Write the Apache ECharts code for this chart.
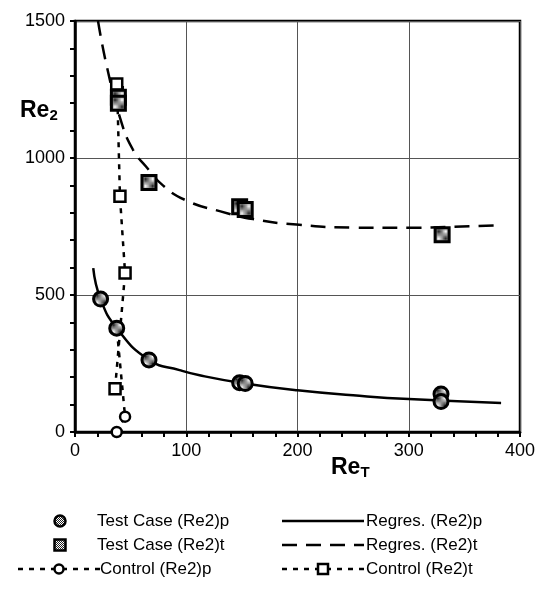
<!DOCTYPE html>
<html><head><meta charset="utf-8">
<script src="https://cdn.jsdelivr.net/npm/echarts@6/dist/echarts.min.js"></script>
<style>html,body{margin:0;padding:0;background:#fff}#c{width:542px;height:596px}</style>
</head><body><div id="c"></div>
<script>
// ---- data ----
var xTicks = [0, 100, 200, 300, 400];
var yTicks = [0, 500, 1000, 1500];
var testP_x = [23, 37.5, 66.5, 148, 153, 329, 329];
var testP_y = [485, 379, 263, 180, 177, 139, 111];
var testT_x = [39, 39, 66.5, 148, 153, 330];
var testT_y = [1222, 1200, 911, 822, 812, 720];
var ctrlP_x = [37.5, 45, 37.5];
var ctrlP_y = [0, 56, 379];
var ctrlT_x = [36, 45, 40.4, 38, 37.5];
var ctrlT_y = [158, 580, 860, 1238, 1270];
var regP_x = [16.4, 23, 37.5, 66.5, 94, 112, 151, 200, 250, 300, 383];
var regP_y = [598, 485, 379, 263, 226, 207, 178, 152, 134, 120, 106];
var regT_x = [20.7, 28.5, 40.7, 52, 64, 79, 100, 130, 160, 199, 250, 300, 340, 378];
var regT_y = [1500, 1336, 1144, 1031, 968, 900, 845, 806, 777, 757, 746, 745, 749, 754];

function pairs(xs, ys){ return xs.map(function(x,i){ return [x, ys[i]]; }); }

// stipple pattern for filled markers
var pc = document.createElement('canvas'); pc.width = 2; pc.height = 2;
var pctx = pc.getContext('2d');
pctx.fillStyle = '#ffffff'; pctx.fillRect(0,0,2,2);
pctx.fillStyle = '#222222'; pctx.fillRect(0,0,1,1); pctx.fillRect(1,1,1,1);
var stipple = {image: pc, repeat: 'repeat'};

var FONT = 'Liberation Sans, Arial, sans-serif';
var chart = echarts.init(document.getElementById('c'), null, {renderer: 'canvas'});

var lx1 = 60, tx1 = 97, lx2a = 282, lx2b = 364, tx2 = 366;
var rows = [521, 545, 569];
var lgFont = {fontSize: 17, fontFamily: FONT, fill: '#000'};

var graphics = [
  {type:'text', left: 20, top: 99, style:{text:'{b|Re}{s|2}', rich:{b:{fontSize:23,fontWeight:'bold',fontFamily:FONT}, s:{fontSize:15,fontWeight:'bold',fontFamily:FONT, padding:[10,0,0,0]}}}},
  {type:'text', left: 331, top: 456, style:{text:'{b|Re}{s|T}', rich:{b:{fontSize:23,fontWeight:'bold',fontFamily:FONT}, s:{fontSize:15,fontWeight:'bold',fontFamily:FONT, padding:[10,0,0,0]}}}},
  // row 1
  {type:'circle', shape:{cx:lx1, cy:rows[0], r:5.5}, style:{fill:stipple, stroke:'#000', lineWidth:2.5}},
  {type:'text', x:tx1, y:rows[0], style:Object.assign({text:'Test Case (Re2)p', textVerticalAlign:'middle'}, lgFont)},
  {type:'line', shape:{x1:lx2a, y1:rows[0], x2:lx2b, y2:rows[0]}, style:{stroke:'#000', lineWidth:2.5}},
  {type:'text', x:tx2, y:rows[0], style:Object.assign({text:'Regres. (Re2)p', textVerticalAlign:'middle'}, lgFont)},
  // row 2
  {type:'rect', shape:{x:lx1-5.5, y:rows[1]-5.5, width:11, height:11}, style:{fill:stipple, stroke:'#000', lineWidth:2.5}},
  {type:'text', x:tx1, y:rows[1], style:Object.assign({text:'Test Case (Re2)t', textVerticalAlign:'middle'}, lgFont)},
  {type:'line', shape:{x1:lx2a, y1:rows[1], x2:lx2b, y2:rows[1]}, style:{stroke:'#000', lineWidth:2.5, lineDash:[15,9]}},
  {type:'text', x:tx2, y:rows[1], style:Object.assign({text:'Regres. (Re2)t', textVerticalAlign:'middle'}, lgFont)},
  // row 3
  {type:'line', shape:{x1:18, y1:rows[2], x2:100, y2:rows[2]}, style:{stroke:'#000', lineWidth:2.5, lineDash:[5,6]}},
  {type:'circle', shape:{cx:59, cy:rows[2], r:4.5}, style:{fill:'#fff', stroke:'#000', lineWidth:2.5}},
  {type:'text', x:100, y:rows[2], style:Object.assign({text:'Control (Re2)p', textVerticalAlign:'middle'}, lgFont)},
  {type:'line', shape:{x1:lx2a, y1:rows[2], x2:lx2b, y2:rows[2]}, style:{stroke:'#000', lineWidth:2.5, lineDash:[5,6]}},
  {type:'rect', shape:{x:323-5, y:rows[2]-5, width:10, height:10}, style:{fill:'#fff', stroke:'#000', lineWidth:2.5}},
  {type:'text', x:tx2, y:rows[2], style:Object.assign({text:'Control (Re2)t', textVerticalAlign:'middle'}, lgFont)}
];

function plain(v){ return String(v); }

chart.setOption({
  animation: false,
  backgroundColor: '#fff',
  grid: {left: 75, right: 22, top: 21, bottom: 164, show: true, borderColor: '#000', borderWidth: 2.5, backgroundColor: 'transparent'},
  xAxis: {
    type: 'value', min: xTicks[0], max: xTicks[xTicks.length-1], interval: 100,
    axisLine: {show: true, onZero: false, lineStyle: {color: '#000', width: 2.5}},
    axisTick: {show: true, inside: false, length: 5, lineStyle: {color: '#000', width: 2}},
    minorTick: {show: true, splitNumber: 5, length: 5, lineStyle: {color: '#000', width: 2}},
    splitLine: {show: true, lineStyle: {color: '#555', width: 1}},
    axisLabel: {fontSize: 18, color: '#000', fontFamily: FONT, margin: 10, formatter: plain}
  },
  yAxis: {
    type: 'value', min: yTicks[0], max: yTicks[yTicks.length-1], interval: 500,
    axisLine: {show: true, onZero: false, lineStyle: {color: '#000', width: 2.5}},
    axisTick: {show: true, inside: false, length: 5, lineStyle: {color: '#000', width: 2}},
    minorTick: {show: true, splitNumber: 5, length: 5, lineStyle: {color: '#000', width: 2}},
    splitLine: {show: true, lineStyle: {color: '#555', width: 1}},
    axisLabel: {fontSize: 18, color: '#000', fontFamily: FONT, margin: 10, formatter: plain}
  },
  graphic: graphics,
  series: [
    {name:'Regres. (Re2)p', type:'line', data: pairs(regP_x, regP_y), smooth: 0.5, showSymbol:false, lineStyle:{color:'#000', width:2.5}, z:2},
    {name:'Regres. (Re2)t', type:'line', data: pairs(regT_x, regT_y), smooth: 0.5, showSymbol:false, lineStyle:{color:'#000', width:2.5, type:[15,9]}, z:2},
    {name:'Control (Re2)p', type:'line', data: pairs(ctrlP_x, ctrlP_y), symbol:'circle', symbolSize:10, showAllSymbol:true,
      itemStyle:{color:'#fff', borderColor:'#000', borderWidth:2.5}, lineStyle:{color:'#000', width:2.5, type:[5,6]}, z:3},
    {name:'Control (Re2)t', type:'line', data: pairs(ctrlT_x, ctrlT_y), symbol:'rect', symbolSize:11, showAllSymbol:true,
      itemStyle:{color:'#fff', borderColor:'#000', borderWidth:2.5}, lineStyle:{color:'#000', width:2.5, type:[5,6]}, z:3},
    {name:'Test Case (Re2)p', type:'scatter', data: pairs(testP_x, testP_y), symbol:'circle', symbolSize:14,
      itemStyle:{color: stipple, borderColor:'#000', borderWidth:3, opacity:1}, z:4},
    {name:'Test Case (Re2)t', type:'scatter', data: pairs(testT_x, testT_y), symbol:'rect', symbolSize:14,
      itemStyle:{color: stipple, borderColor:'#000', borderWidth:3, opacity:1}, z:4}
  ]
});
</script></body></html>
